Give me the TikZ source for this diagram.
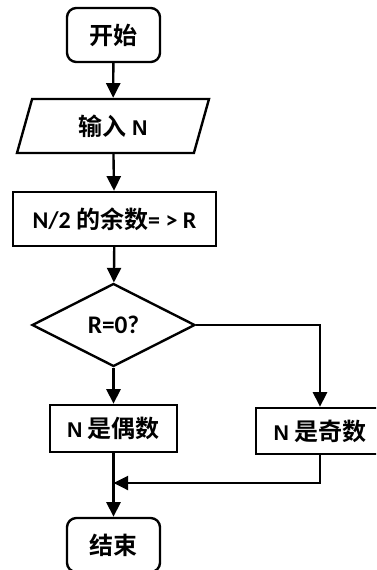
\documentclass[tikz,border=0pt]{standalone}
\usepackage{fontspec}
\setmainfont{Carlito}
\newfontfamily\cjk{Noto Sans CJK SC Bold}
\newfontfamily\arl{Liberation Sans}
\usetikzlibrary{shapes.geometric,arrows.meta}
\begin{document}
\begin{tikzpicture}[x=0.75pt,y=-0.75pt,
  base/.style={draw=black,line width=1.8pt,inner sep=0pt,align=center,font=\fontsize{18}{20}\selectfont},
  term/.style={base,rounded corners=7pt,minimum width=69.75pt,minimum height=40.5pt},
  proc/.style={base,rectangle,minimum height=40.5pt},
  io/.style={base,trapezium,trapezium left angle=56.3,trapezium right angle=123.7,trapezium stretches body,minimum width=144pt,minimum height=40.5pt},
  dec/.style={base,diamond,aspect=1.96,minimum width=122.25pt,minimum height=62.25pt},
  flow/.style={line width=1.8pt,-{Triangle[width=10.5pt,length=11pt]}},
  latin/.style={font=\bfseries\fontsize{18}{20}\selectfont}]
\useasboundingbox (0,0) rectangle (376,570);
\clip (0,0) rectangle (376,570);
\node[term] (start) at (113.5,35) {\cjk 开始};
\node[io] (in) at (113,126) {\cjk 输入 {\bfseries\arl\fontsize{16}{20}\selectfont N}};
\node[proc,minimum width=152.25pt] (rem) at (114.5,219) {{\bfseries N/2} {\cjk 的余数}{\bfseries= > R}};
\node[dec] (dec) at (113.5,325) {\bfseries\fontsize{19}{20}\selectfont R=0?};
\node[proc,minimum width=95.25pt,minimum height=35.25pt] (even) at (113.5,428.5) {{\bfseries\arl\fontsize{16}{20}\selectfont N} \cjk 是偶数};
\node[proc,minimum width=96pt,minimum height=34.5pt] (odd) at (320,431) {{\bfseries\arl\fontsize{16}{20}\selectfont N} \cjk 是奇数};
\node[term] (end) at (113.5,545) {\cjk 结束};
\coordinate (m) at (113.5,483);
\draw[flow] (start) -- (in);
\draw[flow] (in) -- (rem);
\draw[flow] (rem) -- (dec);
\draw[flow] (dec) -- (even);
\draw[flow] (dec.east) -| (odd.north);
\draw[flow] (odd.south) |- (m);
\draw[flow] (even) -- (end);
\end{tikzpicture}
\end{document}
